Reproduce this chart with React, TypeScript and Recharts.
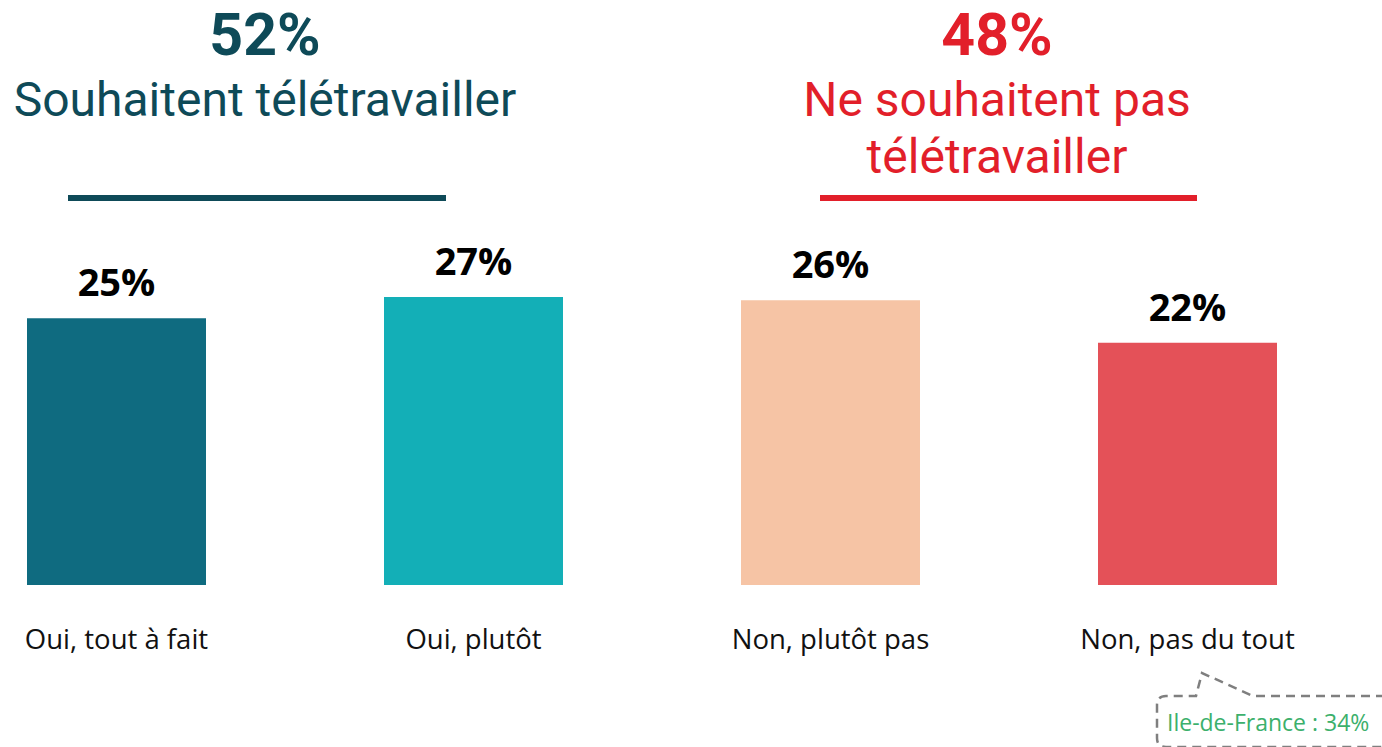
import { BarChart, Bar, XAxis, YAxis, Cell, LabelList } from 'recharts';

const categories = ['Oui, tout à fait', 'Oui, plutôt', 'Non, plutôt pas', 'Non, pas du tout'];
// bar heights as drawn in the picture
const values = [25, 27, 26.7, 22.7];
// labels as printed above the bars
const valueLabels = ['25%', '27%', '26%', '22%'];
const COLORS = ['#0f6b80', '#13afb7', '#f6c4a5', '#e45158'];

const TEAL = '#0e4a58';
const RED = '#e21f2a';
const FONT = '"Open Sans", "Noto Sans", sans-serif';
const HEAD_FONT = 'Roboto, "Open Sans", sans-serif';

const data = categories.map((name, i) => ({ name, value: values[i], label: valueLabels[i] }));

export default function App() {
  return (
    <div style={{ position: 'absolute', left: 0, top: 0, width: 1382, height: 747, overflow: 'hidden', background: '#fff', fontFamily: FONT }}>
      <BarChart
        width={1382}
        height={747}
        data={data}
        margin={{ top: 265, right: 16, bottom: 102, left: -62 }}
        style={{ position: 'absolute', left: 0, top: 0 }}
      >
        <XAxis
          dataKey="name"
          axisLine={false}
          tickLine={false}
          height={60}
          tick={{ fontSize: 27.5, fill: '#111', fontFamily: FONT }}
          dy={36}
        />
        <YAxis hide domain={[0, 30]} />
        <Bar dataKey="value" barSize={179} isAnimationActive={false}>
          {data.map((_, i) => <Cell key={i} fill={COLORS[i]} />)}
          <LabelList
            dataKey="label"
            position="top"
            offset={22}
            style={{ fontSize: 38, fontWeight: 700, fill: '#000', fontFamily: FONT }}
          />
        </Bar>
      </BarChart>

      <svg width={1382} height={747} style={{ position: 'absolute', left: 0, top: 0, pointerEvents: 'none' }}>
        {/* headers */}
        <g fontFamily={HEAD_FONT} textAnchor="middle">
          <text x={265} y={55} fontSize={59} fontWeight={700} fill={TEAL}>52%</text>
          <text x={265} y={116} fontSize={48} fill={TEAL}>Souhaitent télétravailler</text>
          <rect x={68} y={195} width={378} height={6} fill={TEAL} />

          <text x={997} y={55} fontSize={59} fontWeight={700} fill={RED}>48%</text>
          <text x={997} y={116} fontSize={48} fill={RED}>Ne souhaitent pas</text>
          <text x={997} y={173} fontSize={48} fill={RED}>télétravailler</text>
          <rect x={820} y={195} width={377} height={6} fill={RED} />
        </g>

        {/* callout */}
        <path
          d="M1400 696 L1253 696 L1202 673 L1196 696 L1166 696 Q1157 696 1157 705 L1157 738 Q1157 747 1166 747 L1400 747"
          fill="none"
          stroke="#7f7f7f"
          strokeWidth={2.5}
          strokeDasharray="9 6"
        />
        <text x={1167} y={731} fontSize={23} fill="#3cb06c" fontFamily={FONT}>Ile-de-France : 34%</text>
      </svg>
    </div>
  );
}
